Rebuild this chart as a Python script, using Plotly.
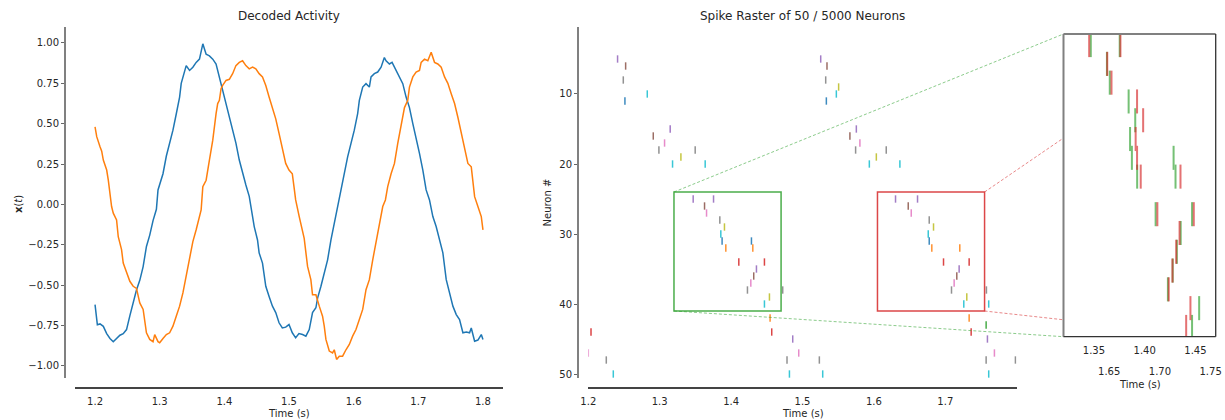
import plotly.graph_objects as go

W, H = 1225, 420
TAB10 = ['#1f77b4', '#ff7f0e', '#2ca02c', '#d62728', '#9467bd',
         '#8c564b', '#e377c2', '#7f7f7f', '#bcbd22', '#17becf']

# ---------------- data: decoded activity ----------------
t_blue = [1.2000, 1.2036, 1.2077, 1.2128, 1.2180, 1.2231, 1.2282, 1.2333, 1.2385, 1.2436,
          1.2487, 1.2538, 1.2590, 1.2641, 1.2692, 1.2744, 1.2795, 1.2846, 1.2897, 1.2949,
          1.2974, 1.3051, 1.3103, 1.3154, 1.3205, 1.3256, 1.3308, 1.3333, 1.3359, 1.3410,
          1.3462, 1.3513, 1.3564, 1.3615, 1.3667, 1.3718, 1.3769, 1.3821, 1.3872, 1.3923,
          1.3974, 1.4026, 1.4077, 1.4128, 1.4179, 1.4231, 1.4282, 1.4333, 1.4385, 1.4410,
          1.4462, 1.4513, 1.4538, 1.4590, 1.4641, 1.4692, 1.4744, 1.4795, 1.4846, 1.4897,
          1.4949, 1.5000, 1.5051, 1.5103, 1.5154, 1.5210, 1.5261, 1.5313, 1.5364, 1.5416,
          1.5442, 1.5494, 1.5545, 1.5597, 1.5649, 1.5700, 1.5752, 1.5804, 1.5855, 1.5907,
          1.5959, 1.6010, 1.6062, 1.6088, 1.6140, 1.6191, 1.6243, 1.6269, 1.6320, 1.6372,
          1.6424, 1.6475, 1.6501, 1.6553, 1.6594, 1.6656, 1.6708, 1.6760, 1.6811, 1.6863,
          1.6915, 1.6966, 1.7018, 1.7070, 1.7121, 1.7173, 1.7225, 1.7276, 1.7328, 1.7380,
          1.7432, 1.7483, 1.7535, 1.7587, 1.7638, 1.7690, 1.7742, 1.7793, 1.7819, 1.7871,
          1.7922, 1.7974, 1.8000]
x_blue = [-0.62, -0.745, -0.74, -0.755, -0.80, -0.83, -0.85, -0.83, -0.81, -0.80,
          -0.775, -0.69, -0.60, -0.53, -0.47, -0.385, -0.26, -0.19, -0.10, -0.03,
          0.09, 0.19, 0.30, 0.38, 0.46, 0.56, 0.665, 0.75, 0.79, 0.86,
          0.83, 0.85, 0.88, 0.90, 0.995, 0.93, 0.92, 0.90, 0.87, 0.79,
          0.71, 0.625, 0.54, 0.46, 0.38, 0.275, 0.19, 0.12, 0.05, -0.01,
          -0.137, -0.22, -0.30, -0.363, -0.507, -0.57, -0.63, -0.67, -0.733, -0.765,
          -0.76, -0.744, -0.795, -0.826, -0.80, -0.806, -0.816, -0.775, -0.67, -0.64,
          -0.58, -0.507, -0.425, -0.343, -0.22, -0.116, -0.013, 0.09, 0.213, 0.295,
          0.378, 0.46, 0.563, 0.645, 0.727, 0.748, 0.727, 0.79, 0.81, 0.82,
          0.85, 0.91, 0.89, 0.87, 0.88, 0.83, 0.79, 0.748, 0.665, 0.60,
          0.50, 0.418, 0.316, 0.213, 0.09, 0.028, -0.075, -0.137, -0.22, -0.30,
          -0.466, -0.548, -0.63, -0.682, -0.713, -0.795, -0.79, -0.795, -0.765, -0.847,
          -0.84, -0.806, -0.836]

t_orange = [1.2000, 1.2026, 1.2077, 1.2103, 1.2128, 1.2180, 1.2205, 1.2231, 1.2256, 1.2282,
            1.2333, 1.2359, 1.2410, 1.2436, 1.2487, 1.2538, 1.2590, 1.2641, 1.2692, 1.2744,
            1.2795, 1.2846, 1.2897, 1.2923, 1.2974, 1.3000, 1.3051, 1.3103, 1.3154, 1.3205,
            1.3256, 1.3308, 1.3359, 1.3410, 1.3462, 1.3513, 1.3564, 1.3615, 1.3641, 1.3667,
            1.3718, 1.3769, 1.3821, 1.3872, 1.3897, 1.3923, 1.3949, 1.3974, 1.4026, 1.4077,
            1.4128, 1.4179, 1.4231, 1.4282, 1.4333, 1.4385, 1.4436, 1.4487, 1.4538, 1.4590,
            1.4641, 1.4692, 1.4744, 1.4795, 1.4846, 1.4897, 1.4949, 1.5000, 1.5051, 1.5077,
            1.5103, 1.5158, 1.5209, 1.5235, 1.5287, 1.5338, 1.5364, 1.5416, 1.5468, 1.5519,
            1.5545, 1.5571, 1.5623, 1.5674, 1.5700, 1.5736, 1.5778, 1.5829, 1.5881, 1.5933,
            1.5984, 1.6036, 1.6088, 1.6140, 1.6191, 1.6243, 1.6295, 1.6346, 1.6398, 1.6450,
            1.6491, 1.6527, 1.6579, 1.6631, 1.6682, 1.6734, 1.6786, 1.6837, 1.6863, 1.6915,
            1.6966, 1.7018, 1.7044, 1.7096, 1.7147, 1.7199, 1.7251, 1.7302, 1.7354, 1.7406,
            1.7457, 1.7509, 1.7561, 1.7612, 1.7664, 1.7716, 1.7742, 1.7767, 1.7819, 1.7871,
            1.7922, 1.7974, 1.8000]
x_orange = [0.48, 0.42, 0.357, 0.33, 0.275, 0.213, 0.15, 0.07, -0.013, -0.054,
            -0.096, -0.20, -0.28, -0.363, -0.425, -0.476, -0.507, -0.52, -0.61, -0.65,
            -0.795, -0.836, -0.85, -0.806, -0.85, -0.857, -0.83, -0.806, -0.795, -0.754,
            -0.692, -0.63, -0.548, -0.435, -0.343, -0.23, -0.157, -0.075, -0.034, 0.11,
            0.15, 0.275, 0.398, 0.563, 0.625, 0.645, 0.717, 0.737, 0.768, 0.775,
            0.81, 0.86, 0.88, 0.89, 0.86, 0.84, 0.85, 0.84, 0.81, 0.79,
            0.737, 0.665, 0.60, 0.53, 0.44, 0.336, 0.254, 0.213, 0.19, 0.11,
            0.028, -0.075, -0.157, -0.21, -0.384, -0.466, -0.56, -0.56, -0.63, -0.692,
            -0.754, -0.836, -0.908, -0.92, -0.90, -0.96, -0.94, -0.94, -0.90, -0.867,
            -0.816, -0.775, -0.713, -0.65, -0.528, -0.466, -0.343, -0.24, -0.137, -0.013,
            0.028, 0.11, 0.19, 0.254, 0.378, 0.48, 0.60, 0.645, 0.727, 0.79,
            0.82, 0.83, 0.88, 0.90, 0.89, 0.943, 0.88, 0.87, 0.85, 0.79,
            0.75, 0.686, 0.625, 0.54, 0.44, 0.357, 0.295, 0.254, 0.233, 0.048,
            -0.013, -0.075, -0.157]

# ---------------- data: spike raster ----------------
spike_neurons = [5, 5, 6, 6, 8, 8, 9, 10, 10, 11, 11,
                 15, 15, 16, 16, 17, 17, 18, 18, 18, 18, 19, 19, 20, 20, 20, 20,
                 25, 25, 25, 25, 26, 26, 27, 27, 28, 28, 29, 29, 30, 30,
                 31, 31, 31, 32, 32, 32, 32, 34, 34, 34, 34, 35, 35, 36, 36,
                 37, 37, 38, 38, 38, 38, 39, 39, 40, 40, 40,
                 42, 42, 43, 44, 44, 44, 45, 45, 47, 47, 47,
                 48, 48, 48, 48, 48, 50, 50, 50, 50]
spike_times = [1.2410, 1.5255, 1.2523, 1.5343, 1.2490, 1.5325, 1.5506, 1.2826, 1.5474, 1.2513, 1.5334,
               1.3147, 1.5754, 1.2910, 1.5664, 1.3068, 1.5804, 1.2989, 1.3497, 1.5744, 1.6173, 1.3297, 1.6034,
               1.3180, 1.3637, 1.5936, 1.6364,
               1.3469, 1.3754, 1.6303, 1.6611, 1.3628, 1.6481, 1.3656, 1.6523, 1.3842, 1.6775, 1.3907, 1.6835,
               1.3856, 1.6761,
               1.3874, 1.4285, 1.6775, 1.3926, 1.4304, 1.6811, 1.7203, 1.4108, 1.4467, 1.6975, 1.7334,
               1.4355, 1.7194, 1.4317, 1.7161,
               1.4276, 1.7124, 1.4229, 1.4723, 1.7087, 1.7576, 1.4537, 1.7301, 1.4467, 1.7259, 1.7608,
               1.4546, 1.7334, 1.7572, 1.2038, 1.4569, 1.7362, 1.4863, 1.7590, 1.2000, 1.4947, 1.7688,
               1.2252, 1.4783, 1.5236, 1.7572, 1.7982, 1.2350, 1.4817, 1.5283, 1.7608]

green_window = [1.32, 1.47]
red_window = [1.605, 1.755]
window_neurons = [24, 41]

x_ticks_main = [1.2, 1.3, 1.4, 1.5, 1.6, 1.7, 1.8]
y_ticks_left = [-1.0, -0.75, -0.5, -0.25, 0.0, 0.25, 0.5, 0.75, 1.0]
y_ticks_raster = [10, 20, 30, 40, 50]
inset_ticks_green = [1.35, 1.40, 1.45]
inset_ticks_red = [1.65, 1.70, 1.75]

# ---------------- geometry ----------------
def xdom(a, b):
    return [a / W, b / W]

def ydom(top, bottom):
    return [1 - bottom / H, 1 - top / H]

xd1 = xdom(75, 503)
yd = ydom(27, 378)
xd2 = xdom(588.3, 1016.7)
xd3 = xdom(1063.5, 1215.7)
yd3 = ydom(34, 336.7)

left_xrange = [1.169, 1.831]
left_yrange = [-1.075, 1.099]
raster_xrange = [1.2, 1.8]
raster_yrange = [50.57, 0.43]
inset_yrange = [40.52, 24.41]

FONT = "DejaVu Sans"
TXT = "#262626"

fig = go.Figure()

fig.add_trace(go.Scatter(x=t_blue, y=x_blue, mode="lines", line=dict(color=TAB10[0], width=1.5),
                         xaxis="x", yaxis="y", showlegend=False, hoverinfo="skip"))
fig.add_trace(go.Scatter(x=t_orange, y=x_orange, mode="lines", line=dict(color=TAB10[1], width=1.5),
                         xaxis="x", yaxis="y", showlegend=False, hoverinfo="skip"))


def segments(times, neurons, length):
    xs, ys = [], []
    for t, n in zip(times, neurons):
        xs += [t, t, None]
        ys += [n - length / 2, n + length / 2, None]
    return xs, ys


# main raster, coloured by neuron index
for c in range(10):
    ts = [t for t, n in zip(spike_times, spike_neurons) if (n - 1) % 10 == c]
    ns = [n for t, n in zip(spike_times, spike_neurons) if (n - 1) % 10 == c]
    if not ts:
        continue
    xs, ys = segments(ts, ns, 1.05)
    fig.add_trace(go.Scatter(x=xs, y=ys, mode="lines", line=dict(color=TAB10[c], width=1.5),
                             opacity=0.85, xaxis="x2", yaxis="y2", showlegend=False, hoverinfo="skip"))


def in_window(win):
    ts, ns = [], []
    for t, n in zip(spike_times, spike_neurons):
        if win[0] <= t <= win[1] and window_neurons[0] <= n <= window_neurons[1]:
            ts.append(t)
            ns.append(n)
    return ts, ns


gt, gn = in_window(green_window)
xs, ys = segments(gt, gn, 1.28)
fig.add_trace(go.Scatter(x=xs, y=ys, mode="lines", line=dict(color=TAB10[2], width=2),
                         opacity=0.65, xaxis="x3", yaxis="y3", showlegend=False, hoverinfo="skip"))
rt, rn = in_window(red_window)
xs, ys = segments(rt, rn, 1.28)
fig.add_trace(go.Scatter(x=xs, y=ys, mode="lines", line=dict(color=TAB10[3], width=2),
                         opacity=0.65, xaxis="x4", yaxis="y3", showlegend=False, hoverinfo="skip"))

tickfont = dict(family=FONT, size=10, color=TXT)
hidden_ticks = dict(ticks="outside", ticklen=4, tickcolor="rgba(0,0,0,0)", automargin=False)
y_ticks = dict(ticks="outside", ticklen=3, tickwidth=1, tickcolor="#666", automargin=False)

fig.update_layout(
    template="none",
    width=W, height=H, margin=dict(l=0, r=0, t=0, b=0, pad=0, autoexpand=False),
    paper_bgcolor="white", plot_bgcolor="white",
    font=dict(family=FONT, size=10, color=TXT),
    xaxis=dict(domain=xd1, range=left_xrange, anchor="free", position=1 - 388 / H,
               showline=True, linecolor="#444", linewidth=1.5, showgrid=False, zeroline=False,
               tickvals=x_ticks_main, tickformat=".1f", tickfont=tickfont, **hidden_ticks),
    yaxis=dict(domain=yd, range=left_yrange, anchor="free", position=65 / W,
               showline=True, linecolor="#808080", linewidth=2, showgrid=False, zeroline=False,
               tickvals=y_ticks_left, tickformat=".2f", tickfont=tickfont, **y_ticks),
    xaxis2=dict(domain=xd2, range=raster_xrange, anchor="free", position=1 - 388 / H,
                showline=True, linecolor="#444", linewidth=1.5, showgrid=False, zeroline=False,
                tickvals=x_ticks_main[:-1], tickformat=".1f", tickfont=tickfont, **hidden_ticks),
    yaxis2=dict(domain=yd, range=raster_yrange, anchor="free", position=578 / W,
                showline=True, linecolor="#808080", linewidth=2, showgrid=False, zeroline=False,
                tickvals=y_ticks_raster, tickfont=tickfont, **y_ticks),
    xaxis3=dict(domain=xd3, range=green_window, anchor="y3", showline=False, showgrid=False,
                zeroline=False, tickvals=inset_ticks_green, tickformat=".2f", tickfont=tickfont,
                **hidden_ticks),
    xaxis4=dict(overlaying="x3", range=red_window, anchor="free", position=1 - 358 / H,
                side="bottom", showline=False, showgrid=False, zeroline=False,
                tickvals=inset_ticks_red, tickformat=".2f", tickfont=tickfont, **hidden_ticks),
    yaxis3=dict(domain=yd3, range=inset_yrange, anchor="x3", showline=False, showgrid=False,
                zeroline=False, showticklabels=False, ticks="", automargin=False),
)

# zoom windows on the raster
for win, col in ((green_window, TAB10[2]), (red_window, TAB10[3])):
    fig.add_shape(type="rect", xref="x2", yref="y2", x0=win[0], x1=win[1],
                  y0=window_neurons[0], y1=window_neurons[1],
                  line=dict(color=col, width=1.5), opacity=0.85)


def raster_paper(t, n):
    fx = (t - raster_xrange[0]) / (raster_xrange[1] - raster_xrange[0])
    fy = (n - raster_yrange[0]) / (raster_yrange[1] - raster_yrange[0])
    return xd2[0] + fx * (xd2[1] - xd2[0]), yd[0] + fy * (yd[1] - yd[0])


def connector(p, q, col):
    # stop the line at the inset's left edge (the inset hides the rest)
    if q[0] > xd3[0]:
        s = (xd3[0] - p[0]) / (q[0] - p[0])
        q = (p[0] + s * (q[0] - p[0]), p[1] + s * (q[1] - p[1]))
    fig.add_shape(type="line", xref="paper", yref="paper", x0=p[0], y0=p[1], x1=q[0], y1=q[1],
                  line=dict(color=col, width=1, dash="3px,2px"))


g_rgba = "rgba(44,160,44,0.55)"
r_rgba = "rgba(214,39,40,0.55)"
connector(raster_paper(green_window[0], window_neurons[0]), (xd3[0], yd3[1]), g_rgba)
connector(raster_paper(green_window[0], window_neurons[1]), (xd3[0], yd3[0]), g_rgba)
connector(raster_paper(red_window[1], window_neurons[0]), (xd3[1], yd3[1]), r_rgba)
connector(raster_paper(red_window[1], window_neurons[1]), (xd3[1], yd3[0]), r_rgba)

# inset frame
frame = [((xd3[0], yd3[0]), (xd3[0], yd3[1]), "#808080", 2),
         ((xd3[0], yd3[1]), (xd3[1], yd3[1]), "#808080", 2),
         ((xd3[1], yd3[0]), (xd3[1], yd3[1]), "#333333", 1.3),
         ((xd3[0], yd3[0]), (xd3[1], yd3[0]), "#333333", 1.3)]
for a, b, col, w in frame:
    fig.add_shape(type="line", xref="paper", yref="paper", x0=a[0], y0=a[1], x1=b[0], y1=b[1],
                  line=dict(color=col, width=w))


def label(text, x, y, size=10, angle=0):
    fig.add_annotation(text=text, x=x / W, y=1 - y / H, xref="paper", yref="paper",
                       showarrow=False, xanchor="center", yanchor="middle", textangle=angle,
                       font=dict(family=FONT, size=size, color=TXT))


label("Decoded Activity", 289, 16, 12)
label("Spike Raster of 50 / 5000 Neurons", 802.5, 16, 12)
label("Time (s)", 289, 413)
label("Time (s)", 802.5, 413)
label("Time (s)", 1139.6, 384)
label("<b>x</b>(<i>t</i>)", 18, 204, 10, -90)
label("Neuron #", 547, 202.5, 10, -90)

fig.write_html("out.html")
